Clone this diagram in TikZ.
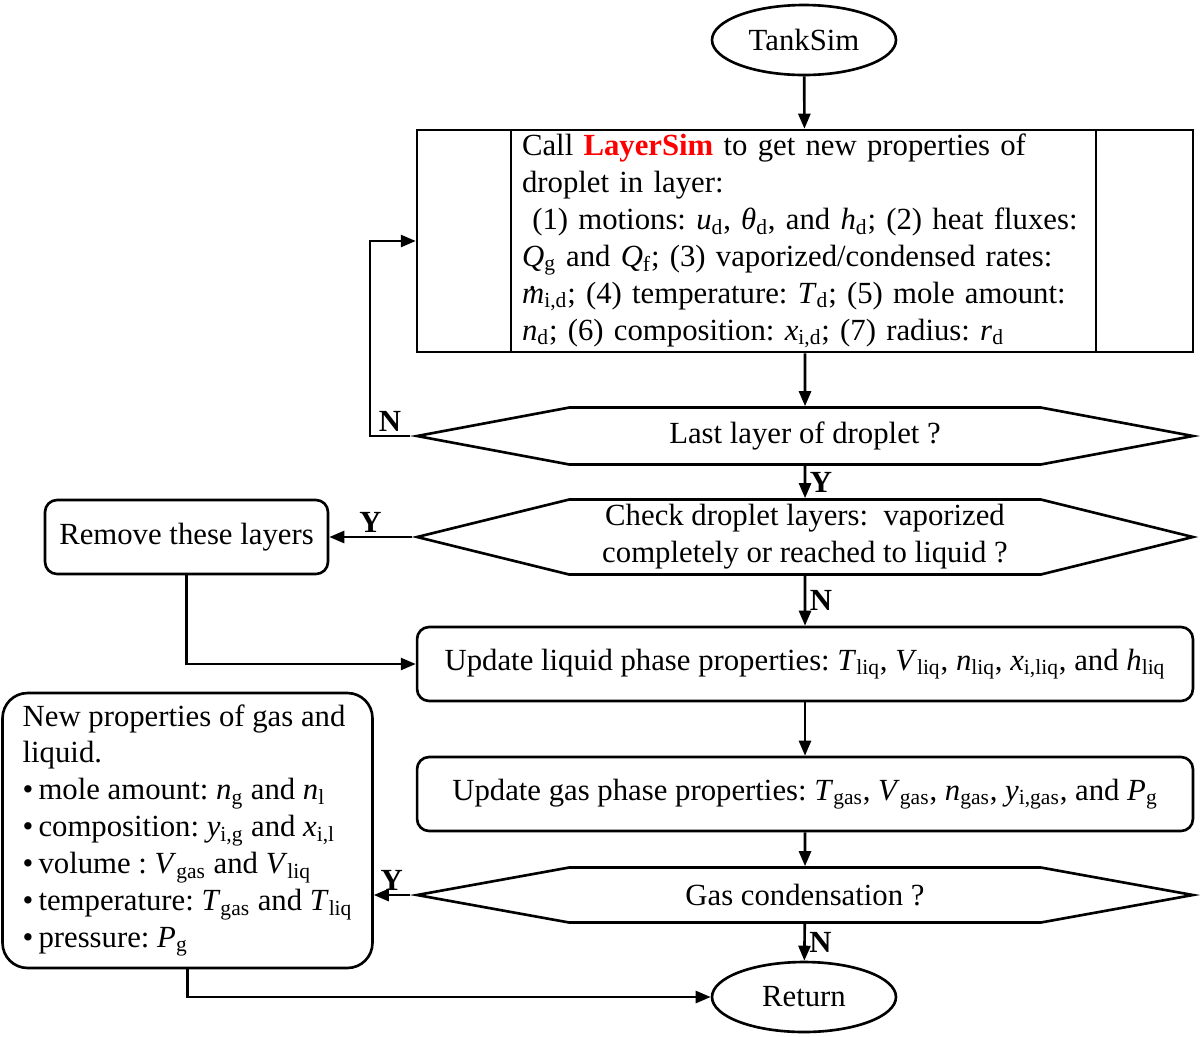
\documentclass[tikz,border=0pt]{standalone}
\usepackage{fontspec}
\setmainfont{Liberation Serif}
\usetikzlibrary{shapes.geometric,shapes.symbols,arrows.meta}

\newcommand{\qv}[2]{\textit{#1}\textsubscript{#2}}
\newcommand{\mdot}{{\ooalign{\textit{m}\cr\hidewidth\raisebox{0.45em}{\textit{.}}\hidewidth\cr}}}
\newcommand{\flowfont}{\fontsize{17.5}{21}\selectfont\frenchspacing}

\tikzset{
  blk/.style={draw, line width=1.5pt, inner sep=0pt},
  term/.style={blk, ellipse, minimum width=3.68cm, minimum height=1.4cm},
  predef/.style={blk, rectangle, minimum width=15.52cm, minimum height=4.44cm,
    text width=11.32cm, align=left,
    path picture={
      \draw[line width=1.5pt]
        ([xshift=1.88cm]path picture bounding box.north west) -- ([xshift=1.88cm]path picture bounding box.south west)
        ([xshift=-1.94cm]path picture bounding box.north east) -- ([xshift=-1.94cm]path picture bounding box.south east);
    }},
  proc/.style={blk, rectangle, rounded corners=0.24cm, minimum width=15.52cm, minimum height=1.48cm},
  decide/.style={blk, signal, signal to=west and east, minimum width=15.52cm, align=center},
  lbl/.style={font=\flowfont\bfseries, inner sep=2pt},
  flow/.style={line width=1.5pt, -{Triangle[length=0.3cm,width=0.24cm]}},
}

\begin{document}
\begin{tikzpicture}[x=0.02cm, y=-0.02cm, font=\flowfont]
  \useasboundingbox (0,0) rectangle (1200,1036);

  \node[term] (ts) at (804,40) {TankSim};
  \node[predef] (ls) at (805,241) {Call \textcolor{red}{\textbf{LayerSim}} to get new properties of\\
    droplet in layer:\\
    \ (1) motions: \qv{u}{d}, \qv{θ}{d}, and \qv{h}{d}; (2) heat fluxes:\\
    \qv{Q}{g} and \qv{Q}{f}; (3) vaporized/condensed rates:\\
    \mdot\textsubscript{i,d}; (4) temperature: \qv{T}{d}; (5) mole amount:\\
    \qv{n}{d}; (6) composition: \qv{x}{i,d}; (7) radius: \qv{r}{d}};
  \node[decide, signal pointer angle=21.2, minimum height=1.14cm] (q1) at (805,436) {Last layer of droplet ?};
  \node[decide, signal pointer angle=27.7, minimum height=1.5cm] (q2) at (805,537)
    {Check droplet layers:~ vaporized\\completely or reached to liquid ?};
  \node[blk, rectangle, rounded corners=0.24cm, minimum width=5.66cm, minimum height=1.48cm] (rm) at (186.5,537) {Remove these layers};
  \node[proc] (ul) at (805,664) {Update liquid phase properties: \qv{T}{liq}, \qv{V}{liq}, \qv{n}{liq}, \qv{x}{i,liq}, and \qv{h}{liq}};
  \node[proc] (ug) at (805,794) {Update gas phase properties: \qv{T}{gas}, \qv{V}{gas}, \qv{n}{gas}, \qv{y}{i,gas}, and \qv{P}{g}};
  \node[decide, signal pointer angle=20.5, minimum height=1.1cm] (q3) at (805,895) {Gas condensation ?};
  \node[blk, rectangle, rounded corners=0.5cm, minimum width=7.4cm, minimum height=5.5cm,
    align=left] (np) at (187.5,830.5) {New properties of gas and\\
    liquid.\\
    •\,mole amount: \qv{n}{g} and \qv{n}{l}\\
    •\,composition: \qv{y}{i,g} and \qv{x}{i,l}\\
    •\,volume : \qv{V}{gas} and \qv{V}{liq}\\
    •\,temperature: \qv{T}{gas} and \qv{T}{liq}\\
    •\,pressure: \qv{P}{g}};
  \node[term] (rt) at (804,997) {Return};

  \draw[flow] (ts) -- (ls);
  \draw[flow] (ls) -- (q1);
  \draw[flow] (q1.west) -- node[lbl, above] {N} ++(-40,0) |- (ls.west);
  \draw[flow] (q1) -- node[lbl, right] {Y} (q2);
  \draw[flow] (q2.west) -- node[lbl, above] {Y} (rm.east);
  \draw[flow] (q2) -- node[lbl, right] {N} (ul);
  \draw[flow] (rm) |- (ul.west);
  \draw[flow] (ul) -- (ug);
  \draw[flow] (ug) -- (q3);
  \draw[flow] (q3.west) -- node[lbl, above] {Y} (q3.west -| np.east);
  \draw[flow] (q3) -- node[lbl, right] {N} (rt);
  \draw[flow] (np) |- (rt.west);
\end{tikzpicture}
\end{document}
